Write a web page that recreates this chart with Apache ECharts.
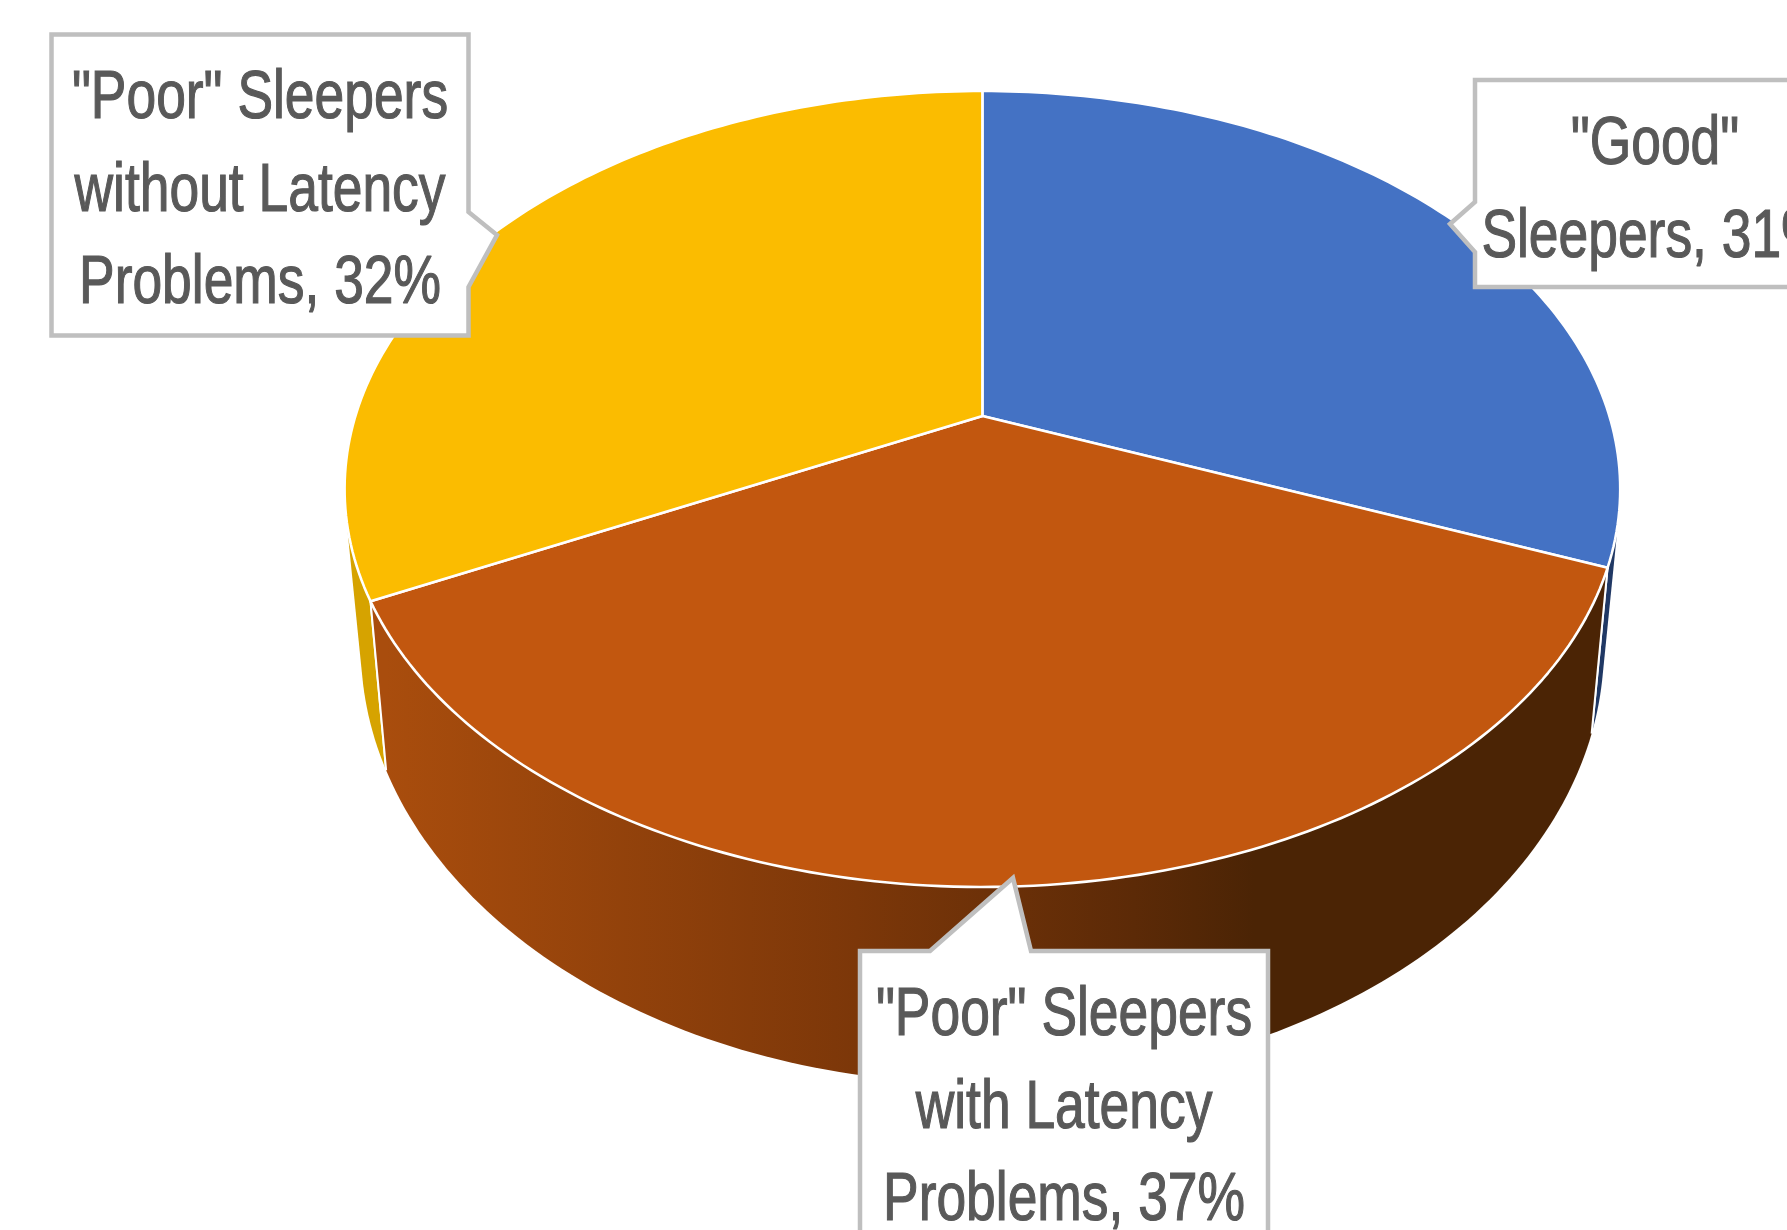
<!DOCTYPE html>
<html><head><meta charset="utf-8">
<style>html,body{margin:0;padding:0;background:#fff;overflow:hidden}#c{width:1787px;height:1230px}</style>
<script src="https://cdn.jsdelivr.net/npm/echarts@6/dist/echarts.min.js"></script>
</head><body><div id="c"></div>
<script>
// Data (labels print the rounded share)
const categories = ['"Good"\nSleepers', '"Poor" Sleepers\nwith Latency\nProblems', '"Poor" Sleepers\nwithout Latency\nProblems'];
const shares = [31, 36.7, 32.3];

// Styles
const topColors = ['#4472C4', '#C2570F', '#FBBC00'];
const sideColors = ['#203864', null, '#D6A300'];
const sideStops = [
  {offset: 0, color: '#A94D0D'}, {offset: 0.39, color: '#7C3709'},
  {offset: 0.62, color: '#5C2A07'}, {offset: 0.72, color: '#4B2405'}, {offset: 1, color: '#4B2405'}
];

// Perspective model of the two disc faces
const cx = 982.4, tilt = 0.1834;
const topFace = {apexY: 416, a: 627, b: 384.6};
const baseFace = {apexY: 567, a: 611, b: 422};
function rim(face, deg) {
  const t = deg * Math.PI / 180, u = Math.sin(t), v = Math.cos(t), w = 1 + tilt * v;
  return [cx + face.a * u / w, face.apexY - face.b * v / w];
}
function arc(face, from, to) {
  const pts = [], n = Math.max(2, Math.ceil(Math.abs(to - from)));
  for (let i = 0; i <= n; i++) pts.push(rim(face, from + (to - from) * i / n));
  return pts;
}
function convexHull(points) {
  const p = points.slice().sort((a, b) => a[0] - b[0] || a[1] - b[1]);
  const cross = (o, a, b) => (a[0] - o[0]) * (b[1] - o[1]) - (a[1] - o[1]) * (b[0] - o[0]);
  const half = list => {
    const h = [];
    for (const q of list) {
      while (h.length > 1 && cross(h[h.length - 2], h[h.length - 1], q) <= 0) h.pop();
      h.push(q);
    }
    h.pop();
    return h;
  };
  return half(p).concat(half(p.slice().reverse()));
}
const total = shares.reduce((a, b) => a + b, 0);
function span(i) {
  let s = 0;
  for (let k = 0; k < i; k++) s += shares[k];
  return [s / total * 360, (s + shares[i]) / total * 360];
}

// Callout layout: [left, top, right, bottom], pointer side and points, text centre and first baseline
const callouts = [
  {box: [1475, 80, 1900, 287], ptr: [[1475, 252], [1450, 224], [1475, 202]], side: 'left', tx: 1655, base: 165},
  {box: [860, 951, 1268, 1330], ptr: [[930, 951], [1013, 878], [1031, 951]], side: 'top', tx: 1064, base: 1036},
  {box: [51.5, 34.5, 468.5, 335.5], ptr: [[468.5, 212], [497, 235], [468.5, 287]], side: 'right', tx: 260, base: 119}
];
const fontSize = 68, lineGap = 92.5, textScaleX = 0.785;

function calloutPolygon(c) {
  const [l, t, r, b] = c.box;
  if (c.side === 'left') return [[l, t], [r, t], [r, b], [l, b], ...c.ptr];
  if (c.side === 'top') return [[l, t], ...c.ptr, [r, t], [r, b], [l, b]];
  return [[l, t], [r, t], ...c.ptr, [r, b], [l, b]];
}

const seriesData = shares.map((v, i) => ({name: categories[i].replace(/\n/g, ' '), value: v}));

const option = {
  animation: false,
  backgroundColor: '#ffffff',
  series: [
    {
      type: 'custom', coordinateSystem: 'none', z: 1, silent: true, data: seriesData,
      renderItem(params, api) {
        const i = params.dataIndex, [a0, a1] = span(i);
        const mid = (a0 + a1) / 2 * Math.PI / 180;
        const level = Math.round(-10 * Math.cos(mid)) + 20;
        const fill = sideColors[i] || new echarts.graphic.LinearGradient(386, 0, 1592, 0, sideStops, true);
        const hull = convexHull(arc(topFace, a0, a1).concat(arc(baseFace, a0, a1)));
        const children = [{type: 'polygon', z2: level, shape: {points: hull}, style: {fill}}];
        [a0, a1].forEach(a => children.push({type: 'polyline', z2: level + 1,
          shape: {points: [rim(topFace, a), rim(baseFace, a)]},
          style: {fill: 'none', stroke: '#ffffff', lineWidth: 2}}));
        return {type: 'group', children};
      }
    },
    {
      type: 'custom', coordinateSystem: 'none', z: 2, silent: true, data: seriesData,
      renderItem(params, api) {
        const i = params.dataIndex, [a0, a1] = span(i);
        const pts = [[cx, topFace.apexY]].concat(arc(topFace, a0, a1));
        return {type: 'polygon', shape: {points: pts},
          style: {fill: topColors[i], stroke: '#ffffff', lineWidth: 2.6, lineJoin: 'round'}};
      }
    },
    {
      type: 'custom', coordinateSystem: 'none', z: 3, silent: true, data: seriesData,
      renderItem(params, api) {
        const i = params.dataIndex, c = callouts[i];
        const lines = (categories[i] + ', ' + Math.round(shares[i]) + '%').split('\n');
        const children = [{type: 'polygon', shape: {points: calloutPolygon(c)},
          style: {fill: '#ffffff', stroke: '#BFBFBF', lineWidth: 4.5, lineJoin: 'miter'}}];
        lines.forEach((line, k) => children.push({
          type: 'text', x: c.tx, y: c.base + k * lineGap - 19.5, scaleX: textScaleX, z2: 5,
          style: {text: line, fill: '#595959', stroke: '#595959', lineWidth: 1.2, align: 'center', verticalAlign: 'middle',
            fontFamily: '"Liberation Sans"', fontSize: fontSize}
        }));
        return {type: 'group', children};
      }
    }
  ]
};
const chart = echarts.init(document.getElementById('c'), null, {renderer: 'canvas'});
chart.setOption(option);
</script></body></html>
